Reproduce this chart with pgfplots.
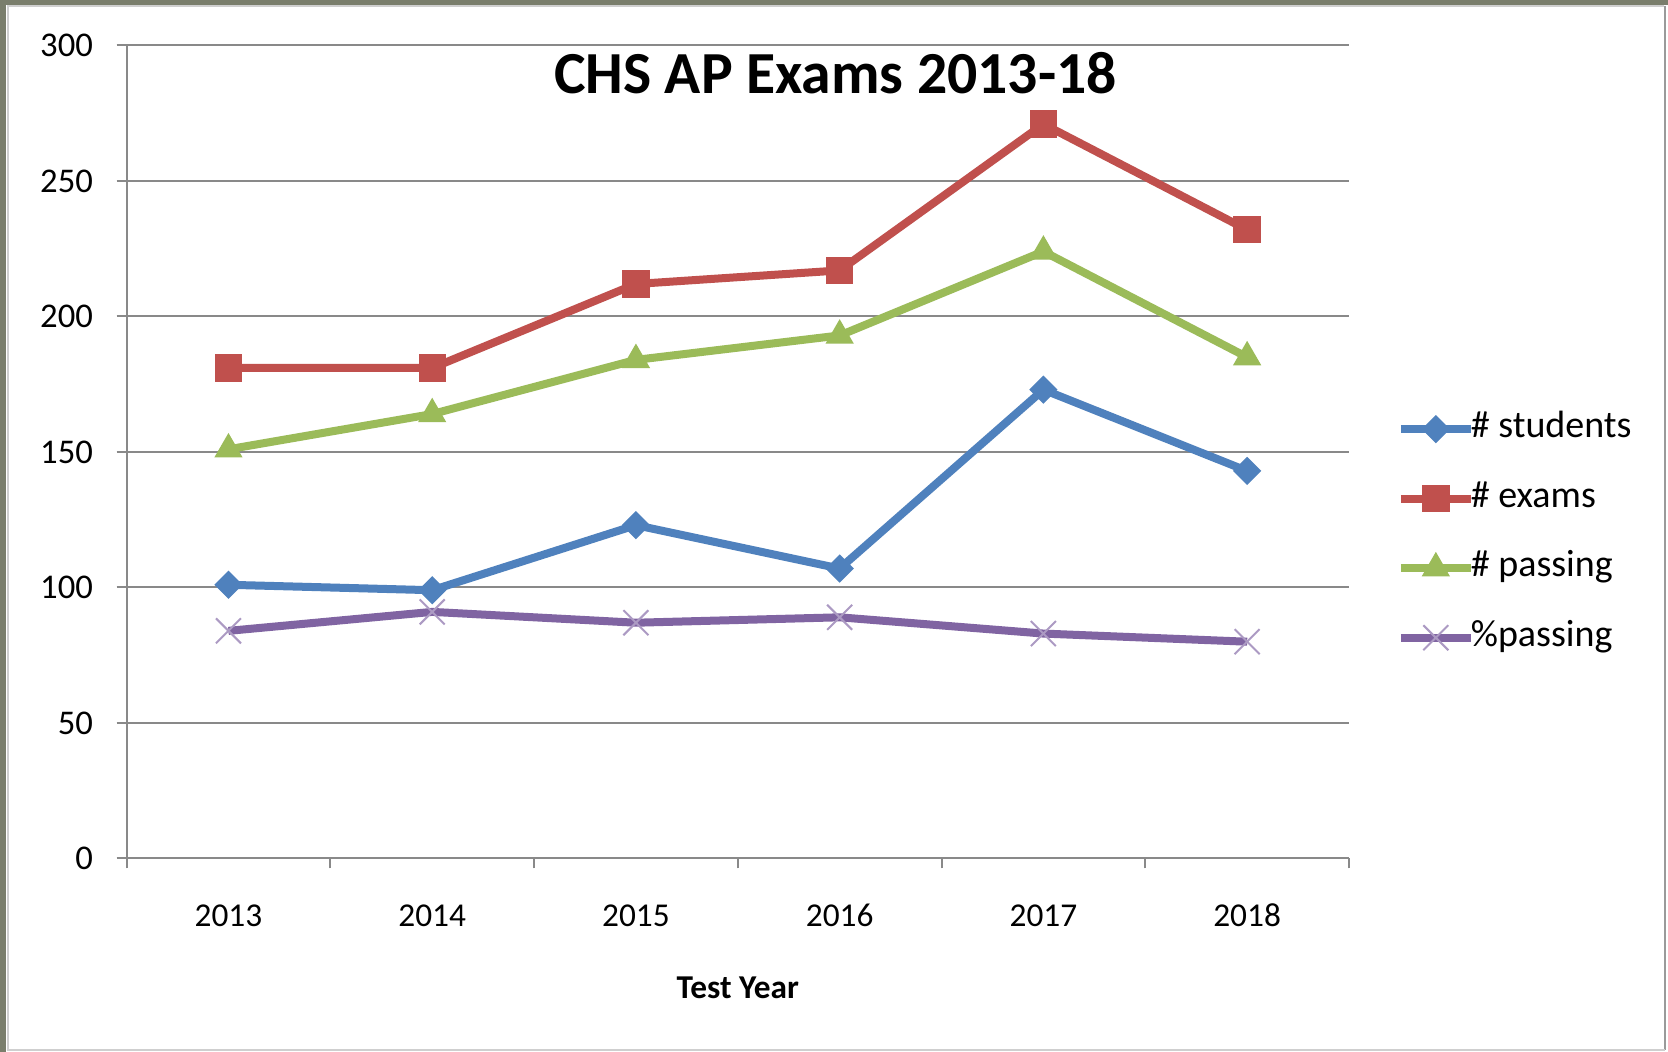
\documentclass[border=0pt]{standalone}
\usepackage{fontspec}
\setmainfont{Carlito}
\usepackage{pgfplots}
\pgfplotsset{compat=1.18}
\definecolor{sblue}{HTML}{4F81BD}
\definecolor{sred}{HTML}{C0504D}
\definecolor{sgreen}{HTML}{9BBB59}
\definecolor{spurple}{HTML}{8064A2}
\definecolor{gridgray}{HTML}{898989}
\definecolor{olivebg}{RGB}{122,126,108}
\definecolor{lightframe}{HTML}{CFCFCF}
\definecolor{darkframe}{HTML}{9A9A9A}
\begin{document}
\begin{tikzpicture}
\begin{scope}[x=0.3pt,y=0.3pt]
\fill[olivebg] (0,0) rectangle (1668,1052);
\fill[white] (6,0) rectangle (1668,1047);
\draw[line width=0.6pt, lightframe] (7.5,1) -- (7.5,1045.5) -- (1664,1045.5);
\draw[line width=0.75pt, darkframe] (1665,1046) -- (1665,2);
\draw[line width=0.6pt, lightframe] (7,2) -- (1665,2);
\end{scope}
\begin{axis}[
  at={(37.98pt,58.05pt)}, anchor=south west,
  scale only axis, width=366.72pt, height=243.9pt,
  xmin=0, xmax=6, ymin=0, ymax=300,
  axis lines=left, axis line style={-, gridgray, line width=0.6pt},
  ytick={0,50,...,300},
  xtick={0,1,...,6}, xticklabels={},
  extra x ticks={0.5,1.5,2.5,3.5,4.5,5.5},
  extra x tick labels={2013,2014,2015,2016,2017,2018},
  extra x tick style={major tick length=0pt, grid=none,
     xticklabel style={anchor=base, inner sep=0pt, yshift=-20.5pt}},
  ymajorgrids, grid style={gridgray, line width=0.6pt},
  tick align=outside, major tick length=3pt, tick style={gridgray, line width=0.6pt},
  yticklabel style={anchor=east, inner sep=0pt, xshift=-6.9pt, font=\fontsize{10.4}{12}\selectfont},
  xticklabel style={font=\fontsize{10}{12}\selectfont},
  /pgf/number format/assume math mode=true,
  xlabel={Test Year},
  xlabel style={at={(axis description cs:0.5,0)}, anchor=base, inner sep=0pt, yshift=-42pt, font=\bfseries\fontsize{10}{12}\selectfont},
  every axis title shift=0pt,
  title={CHS AP Exams 2013-18},
  title style={at={(axis description cs:0.5799,0.9412)}, anchor=base, inner sep=0pt, font=\bfseries\fontsize{17.9}{21}\selectfont},
  legend style={at={(axis description cs:1.0386,0.5514)}, anchor=north west, draw=none, fill=none, inner sep=0pt,
     font=\fontsize{11.4}{13}\selectfont, row sep=9.85pt,
     nodes={inner sep=0pt, text height=8pt, text depth=3pt},
     /tikz/every odd column/.append style={column sep=-1.2pt}},
  legend cell align=left,
  legend image code/.code={\draw[mark repeat=2, mark phase=2] plot coordinates {(0pt,0pt) (10.5pt,0pt) (21pt,0pt)};},
]
\addplot[sblue, line width=2.4pt, mark=square*, mark size=2.8pt, mark options={rotate=45, solid, line width=0.4pt, fill=sblue}]
  coordinates {(0.5,101)(1.5,99)(2.5,123)(3.5,107)(4.5,173)(5.5,143)};
\addlegendentry{\# students}
\addplot[sred, line width=2.4pt, mark=square*, mark size=3.9pt, mark options={solid, line width=0.4pt, fill=sred}]
  coordinates {(0.5,181)(1.5,181)(2.5,212)(3.5,217)(4.5,271)(5.5,232)};
\addlegendentry{\# exams}
\addplot[sgreen, line width=2.4pt, mark=triangle*, mark size=4.5pt, mark options={solid, line width=0.4pt, fill=sgreen}]
  coordinates {(0.5,151)(1.5,164)(2.5,184)(3.5,193)(4.5,224)(5.5,185)};
\addlegendentry{\# passing}
\addplot[spurple, line width=2.4pt, mark=x, mark size=5.3pt, mark options={solid, line width=0.6pt, draw=spurple!65}]
  coordinates {(0.5,84)(1.5,91)(2.5,87)(3.5,89)(4.5,83)(5.5,80)};
\addlegendentry{\%passing}
\end{axis}
\pgfresetboundingbox
\path (0,0) rectangle (500.4pt,315.6pt);
\end{tikzpicture}
\end{document}
